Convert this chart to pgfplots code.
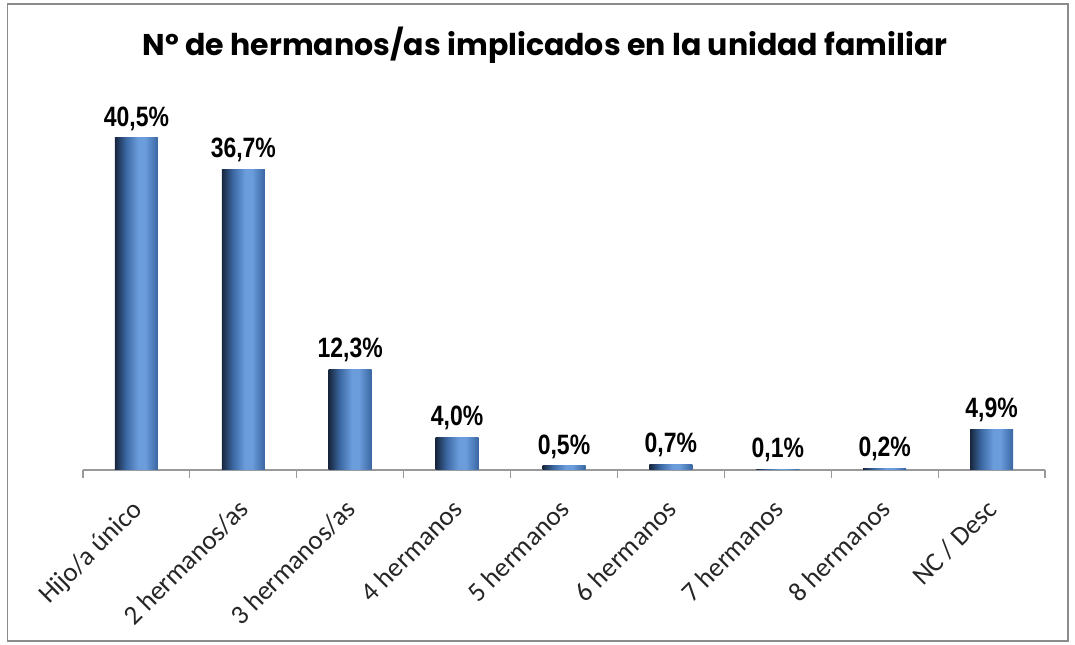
\documentclass[border=0pt]{standalone}
\usepackage{pgfplots}
\pgfplotsset{compat=1.18}
\usepackage{fontspec}
\setmainfont{Carlito}
\newfontfamily\titlefont{Poppins}
\newfontfamily\narrowfont[FakeStretch=0.82]{Liberation Sans}
\definecolor{bdark}{HTML}{18263E}
\definecolor{bmid}{HTML}{3C69A4}
\definecolor{blight}{HTML}{6B9CDC}
\definecolor{bright}{HTML}{3A66A2}
\definecolor{axgray}{HTML}{999999}
\definecolor{framegray}{HTML}{8C8C8C}
\pgfdeclarehorizontalshading{barshade}{100bp}{color(0bp)=(bdark); color(25bp)=(bdark); color(38bp)=(bmid); color(52bp)=(blight); color(60bp)=(blight); color(75bp)=(bright); color(100bp)=(bright)}
\begin{document}
\begin{tikzpicture}
\useasboundingbox (0,0) rectangle (1075bp,645bp);
\draw[framegray, line width=1.5bp] (7.5bp,4bp) rectangle (1068bp,641bp);
\node[font=\titlefont\bfseries\fontsize{30bp}{35bp}\selectfont] at (545bp,600bp) {Nº de hermanos/as implicados en la unidad familiar};
\begin{axis}[
  at={(83bp,175bp)}, anchor=south west,
  scale only axis, width=962bp, height=369bp,
  xmin=-0.5, xmax=8.5, ymin=0, ymax=45,
  axis y line=none,
  axis x line*=bottom,
  x axis line style={axgray, line width=2.5bp},
  xtick={0,...,8},
  xticklabels={Hijo/a único,2 hermanos/as,3 hermanos/as,4 hermanos,5 hermanos,6 hermanos,7 hermanos,8 hermanos,NC / Desc},
  major tick length=0pt,
  minor xtick={-0.5,0.5,...,8.5},
  minor tick length=8bp,
  tick align=outside,
  minor tick style={axgray, line width=1.2bp},
  xticklabel style={rotate=45, anchor=north east, inner sep=0pt, font=\fontsize{27bp}{31bp}\selectfont, text=black!85, xshift=-24bp, yshift=-15bp},
  /pgf/number format/assume math mode=true,
  nodes near coords={\pgfmathprintnumber[fixed, fixed zerofill, precision=1, use comma]{\pgfplotspointmeta}\%},
  every node near coord/.append style={font=\narrowfont\bfseries\fontsize{28bp}{31bp}\selectfont, text=black, yshift=4bp},
  clip=false,
  mybar/.style={ybar, bar width=43bp, draw=none, shade, shading=barshade},
]
\addplot[mybar] coordinates {(0,40.5)};
\addplot[mybar] coordinates {(1,36.7)};
\addplot[mybar] coordinates {(2,12.3)};
\addplot[mybar] coordinates {(3,4.0)};
\addplot[mybar] coordinates {(4,0.5)};
\addplot[mybar] coordinates {(5,0.7)};
\addplot[mybar] coordinates {(6,0.1)};
\addplot[mybar] coordinates {(7,0.2)};
\addplot[mybar] coordinates {(8,4.9)};
\end{axis}
\end{tikzpicture}
\end{document}
